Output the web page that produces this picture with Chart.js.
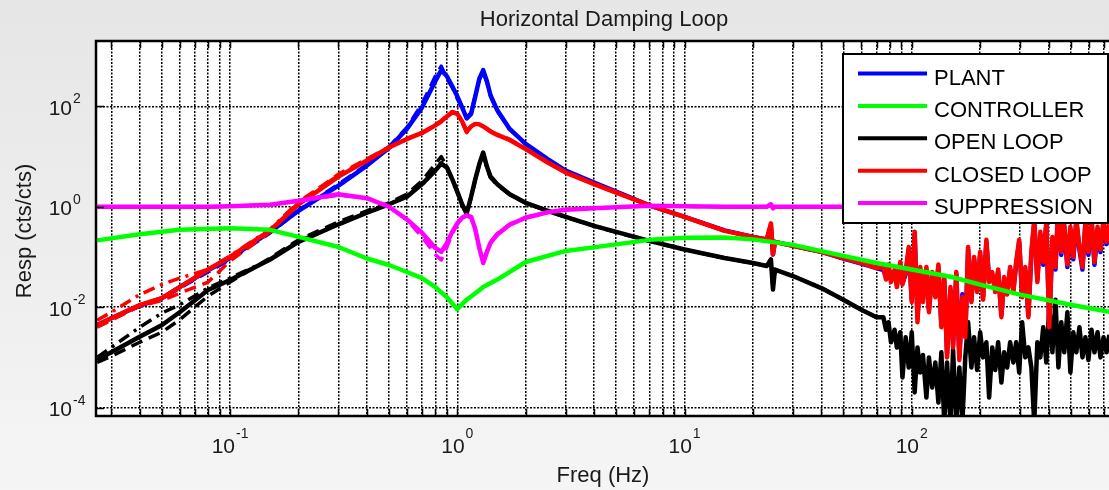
<!DOCTYPE html>
<html>
<head>
<meta charset="utf-8">
<title>Horizontal Damping Loop</title>
<script src="https://cdn.jsdelivr.net/npm/chart.js@4.4.0/dist/chart.umd.min.js"></script>
<style>
    body { margin: 0; background: #ececec; }
    canvas { display: block; }
</style>
</head>
<body>
<canvas id="damping_chart" width="1109" height="490"></canvas>
<script>
// frequency grid for the smooth part of the measured curves (Hz)
const freqs = [0.026, 0.03, 0.04, 0.05, 0.06, 0.08, 0.1, 0.15, 0.2, 0.3, 0.4, 0.5, 0.6, 0.7, 0.8, 0.85, 0.9, 0.95, 1.0, 1.05, 1.1, 1.15, 1.2, 1.25, 1.3, 1.35, 1.4, 1.5, 1.7, 2, 2.5, 3, 4, 5, 7, 10, 15, 20, 23, 24, 24.5, 25, 30, 40, 50, 60, 70];

const plant = [0.0044, 0.006, 0.0108, 0.015, 0.025, 0.054, 0.095, 0.316, 0.832, 2.63, 6.61, 14.8, 35.5, 95.5, 316, 525, 398, 251, 158, 95.5, 57.5, 70.8, 158, 355, 525, 316, 166, 83.2, 35.5, 17.8, 8.91, 5.25, 3.02, 2.0, 1.07, 0.631, 0.339, 0.251, 0.224, 0.417, 0.112, 0.2, 0.166, 0.126, 0.0933, 0.0741, 0.0603];
const plant_dash = [0.0042, 0.0058, 0.0104, 0.0148, 0.024, 0.05, 0.089, 0.3, 0.85, 2.82, 6.9, 15.5, 38, 112, 398, 631, 355, 240, 141, 90, 60, 75, 165, 340, 479, 300, 160, 80, 35, 17.5, 8.8, 5.2, 3.0, 2.0, 1.07, 0.63, 0.34, 0.25, 0.224, 0.4, 0.12, 0.2, 0.166, 0.126, 0.093, 0.074, 0.06];

const open_loop = [0.00089, 0.00126, 0.00257, 0.00437, 0.00794, 0.022, 0.0347, 0.0891, 0.2, 0.447, 0.759, 1.12, 1.58, 2.82, 5.25, 7.24, 6.03, 3.55, 2.0, 1.12, 0.741, 1.58, 3.55, 7.08, 12.0, 6.31, 3.98, 2.82, 1.78, 1.2, 0.832, 0.631, 0.417, 0.316, 0.209, 0.141, 0.0955, 0.0759, 0.0661, 0.0891, 0.0224, 0.0562, 0.0417, 0.024, 0.0141, 0.00891, 0.00631];
const open_loop_dash = [0.00079, 0.00105, 0.002, 0.00316, 0.00562, 0.0166, 0.0316, 0.0955, 0.219, 0.5, 0.832, 1.2, 1.78, 3.31, 7.08, 10, 6.31, 3.4, 1.9, 1.05, 0.7, 1.5, 3.4, 6.8, 11, 6, 3.8, 2.7, 1.75, 1.18, 0.82, 0.62, 0.41, 0.31, 0.205, 0.14, 0.095, 0.075, 0.066, 0.085, 0.025, 0.056, 0.0417, 0.024, 0.014, 0.0089, 0.0063];
const open_loop_dashdot = [0.001, 0.00158, 0.00398, 0.00759, 0.0112, 0.024, 0.038, 0.0891, 0.2, 0.447, 0.76, 1.12, 1.6, 2.9, 5.5, 7.5, 6.2, 3.6, 2.0, 1.12, 0.74, 1.58, 3.55, 7.08, 12.0, 6.31, 3.98, 2.82, 1.78, 1.2, 0.832, 0.631, 0.417, 0.316, 0.209, 0.141, 0.0955, 0.0759, 0.0661, 0.0891, 0.0224, 0.0562, 0.0417, 0.024, 0.0141, 0.00891, 0.00631];

const closed_loop = [0.00437, 0.00603, 0.011, 0.0151, 0.0251, 0.0562, 0.1, 0.339, 1.12, 3.98, 8.32, 15.1, 22.4, 29.5, 41.7, 50.1, 63.1, 75.9, 70.8, 50.1, 31.6, 39.8, 44.7, 43.7, 39.8, 35.5, 31.6, 26.9, 21.4, 14.1, 7.59, 4.79, 2.82, 1.91, 1.07, 0.631, 0.331, 0.251, 0.224, 0.468, 0.112, 0.2, 0.166, 0.126, 0.0955, 0.0759, 0.0603];
const closed_loop_dash = [0.004, 0.0055, 0.0105, 0.0135, 0.019, 0.0316, 0.083, 0.316, 1.2, 4.47, 8.9, 15.5, 22, 30, 43, 52, 66, 79, 72, 48, 30, 40, 45, 44, 40, 36, 32, 27.5, 22, 14.5, 7.8, 4.9, 2.9, 1.95, 1.07, 0.63, 0.33, 0.25, 0.224, 0.45, 0.115, 0.2, 0.166, 0.126, 0.095, 0.076, 0.06];
const closed_loop_dashdot = [0.0055, 0.0079, 0.0178, 0.0282, 0.038, 0.0562, 0.105, 0.355, 1.26, 4.2, 8.5, 15, 22.4, 29.5, 41.7, 50, 63, 75, 70, 50, 31.6, 39.8, 44.7, 43.7, 39.8, 35.5, 31.6, 26.9, 21.4, 14.1, 7.59, 4.79, 2.82, 1.91, 1.07, 0.631, 0.331, 0.251, 0.224, 0.46, 0.115, 0.2, 0.166, 0.126, 0.0955, 0.0759, 0.0603];

const suppression = [1.0, 1.0, 1.0, 1.0, 1.0, 1.0, 1.02, 1.1, 1.32, 1.78, 1.48, 1.0, 0.56, 0.302, 0.151, 0.126, 0.19, 0.316, 0.468, 0.603, 0.676, 0.631, 0.355, 0.151, 0.0759, 0.126, 0.19, 0.282, 0.437, 0.603, 0.776, 0.871, 0.933, 0.977, 1.05, 1.02, 1.0, 1.0, 1.0, 1.12, 0.93, 1.0, 1.0, 1.0, 1.0, 1.0, 1.0];
const suppression_dash = [1.0, 1.0, 1.0, 1.0, 1.0, 1.0, 1.02, 1.1, 1.3, 1.7, 1.5, 1.02, 0.55, 0.25, 0.112, 0.087, 0.158, 0.29, 0.45, 0.59, 0.66, 0.6, 0.34, 0.15, 0.08, 0.13, 0.2, 0.29, 0.45, 0.62, 0.78, 0.88, 0.94, 0.98, 1.05, 1.02, 1.0, 1.0, 1.0, 1.1, 0.94, 1.0, 1.0, 1.0, 1.0, 1.0, 1.0];

// noisy high frequency part of the measurements (Hz)
const noise_freqs = [75, 77, 79, 81, 84, 86, 89, 91, 94, 97, 100, 103, 106, 109, 112, 116, 119, 123, 127, 131, 135, 139, 143, 148, 152, 157, 162, 167, 172, 177, 183, 188, 194, 200, 206, 213, 219, 226, 233, 240, 248, 255, 263, 271, 280, 288, 297, 306, 316, 326, 336, 346, 357, 368, 379, 391, 403, 416, 429, 442, 455, 469, 484, 499, 514, 530, 547, 564, 581, 599, 618, 637, 657, 677, 698, 720, 740];
const plant_noise = [0.055, 0.04, 0.065, 0.035, 0.05, 0.028, 0.07, 0.03, 0.045, 0.14, 0.014, 0.28, 0.006, 0.056, 0.014, 0.056, 0.009, 0.045, 0.018, 0.063, 0.0045, 0.035, 0.0012, 0.022, 0.0018, 0.045, 0.001, 0.018, 0.0028, 0.14, 0.014, 0.09, 0.022, 0.11, 0.016, 0.2, 0.035, 0.045, 0.022, 0.05, 0.007, 0.035, 0.02, 0.056, 0.022, 0.07, 0.2, 0.018, 0.056, 0.007, 0.11, 0.48, 0.035, 0.28, 0.07, 0.45, 0.0045, 0.22, 0.056, 1.1, 0.11, 0.4, 0.063, 0.35, 0.09, 0.5, 0.14, 0.056, 0.45, 0.11, 0.56, 0.07, 0.35, 0.125, 0.5, 0.18, 0.4];
const open_loop_noise = [0.00631, 0.00355, 0.00501, 0.002, 0.00355, 0.00158, 0.00316, 0.000398, 0.00251, 0.00063, 0.00316, 0.0002, 0.00158, 0.0005, 0.00112, 0.000158, 0.001, 0.00025, 0.00079, 0.000126, 0.00126, 0.00005, 0.00079, 0.00005, 0.00141, 0.00005, 0.00063, 0.00005, 0.001, 0.00501, 0.00063, 0.00251, 0.000562, 0.00316, 0.001, 0.002, 0.000158, 0.00158, 0.000562, 0.002, 0.000316, 0.00126, 0.00063, 0.002, 0.00079, 0.002, 0.0005, 0.00501, 0.001, 0.00158, 0.00063, 0.00005, 0.002, 0.001, 0.00398, 0.00079, 0.01, 0.00126, 0.0141, 0.00063, 0.00501, 0.00126, 0.00794, 0.0005, 0.00316, 0.00126, 0.00398, 0.001, 0.00251, 0.00089, 0.00355, 0.00126, 0.00316, 0.001, 0.00251, 0.00126, 0.00282];
const closed_loop_noise = [0.0631, 0.0355, 0.0708, 0.0316, 0.0562, 0.0251, 0.0794, 0.0282, 0.0501, 0.158, 0.0126, 0.316, 0.00501, 0.0631, 0.0126, 0.0631, 0.00794, 0.0501, 0.0158, 0.0708, 0.00398, 0.0398, 0.001, 0.0251, 0.00158, 0.0501, 0.00089, 0.0158, 0.00251, 0.158, 0.0126, 0.1, 0.02, 0.126, 0.0141, 0.219, 0.0316, 0.0501, 0.02, 0.0562, 0.00631, 0.0398, 0.0178, 0.0631, 0.02, 0.0794, 0.219, 0.0158, 0.0631, 0.00631, 0.126, 0.537, 0.0316, 0.316, 0.0794, 0.501, 0.00398, 0.251, 0.0631, 1.26, 0.126, 0.447, 0.0708, 0.398, 0.1, 0.562, 0.158, 0.0631, 0.501, 0.126, 0.631, 0.0794, 0.398, 0.141, 0.562, 0.2, 0.447];
const suppression_noise = [1.0, 1.05, 0.95, 1.1, 0.92, 1.08, 0.95, 1.12, 0.9, 1.1, 0.88, 1.15, 0.9, 1.1, 0.85, 1.2, 0.92, 1.1, 0.85, 1.2, 0.9, 1.25, 0.8, 1.15, 0.85, 1.2, 0.8, 1.1, 0.9, 1.25, 0.85, 1.1, 0.9, 1.2, 0.85, 1.3, 0.9, 1.1, 0.95, 1.15, 0.85, 1.1, 0.9, 1.2, 0.85, 1.1, 1.3, 0.9, 1.1, 0.85, 1.15, 1.35, 0.9, 1.25, 0.95, 1.3, 0.8, 1.2, 0.95, 1.4, 1.0, 1.25, 0.95, 1.2, 1.0, 1.3, 1.05, 0.95, 1.25, 1.0, 1.3, 0.95, 1.2, 1.05, 1.3, 1.1, 1.2];

// controller model
const controller_freqs = [0.026, 0.04, 0.06, 0.1, 0.15, 0.2, 0.3, 0.4, 0.5, 0.6, 0.7, 0.8, 0.9, 1.0, 1.1, 1.2, 1.3, 1.5, 2, 3, 5, 7, 10, 15, 20, 30, 50, 70, 100, 150, 200, 300, 500, 740];
const controller = [0.214, 0.282, 0.347, 0.372, 0.347, 0.251, 0.158, 0.0933, 0.0692, 0.0501, 0.038, 0.0251, 0.0158, 0.00912, 0.0141, 0.019, 0.0251, 0.0355, 0.0794, 0.132, 0.178, 0.219, 0.24, 0.245, 0.224, 0.174, 0.105, 0.0759, 0.0562, 0.0398, 0.0282, 0.0178, 0.0112, 0.0081];

const legend_labels = ["PLANT", "CONTROLLER", "OPEN LOOP", "CLOSED LOOP", "SUPPRESSION"];
const legend_colors = ["#0000ff", "#00ff00", "#000000", "#ff0000", "#ff00ff"];

const x_min = 0.0257;
const x_max = 738;
const y_min = 6.8e-5;
const y_max = 2000;
const x_decades = [0.01, 0.1, 1, 10, 100];
const x_label_exponents = [-1, 0, 1, 2];
const y_label_exponents = [-4, -2, 0, 2];

const font_family = "'Liberation Sans', Arial, sans-serif";

const x_ticks = [];
x_decades.forEach(d =>
{
    for (let m = 1; m <= 9; m++)
    {
        const v = d * m;
        if (v >= x_min && v <= x_max) x_ticks.push(v);
    }
});
const y_ticks = y_label_exponents.map(e => Math.pow(10, e));

function points(x_values, y_values)
{
    return x_values.map((x, i) => ({ x: x, y: y_values[i] }));
}

function series(label, color, order, data, dash)
{
    return {
        label: label,
        data: data,
        borderColor: color,
        backgroundColor: color,
        borderWidth: dash ? 3.5 : 4.5,
        borderDash: dash || [],
        borderJoinStyle: "round",
        pointRadius: 0,
        fill: false,
        tension: 0,
        clip: 0,
        order: order
    };
}

const dashed = [12, 7];
const dashdot = [12, 6, 3, 6];

const frame_plugin =
{
    id: "frame",
    beforeDraw(chart)
    {
        const ctx = chart.ctx;
        const area = chart.chartArea;
        const gradient = ctx.createLinearGradient(0, 0, 0, chart.height);
        gradient.addColorStop(0, "#e6e6e6");
        gradient.addColorStop(1, "#f5f5f5");
        ctx.save();
        ctx.fillStyle = gradient;
        ctx.fillRect(0, 0, chart.width, chart.height);
        ctx.fillStyle = "#ffffff";
        ctx.fillRect(area.left, area.top, area.right - area.left, area.bottom - area.top);
        ctx.restore();
    },
    afterDraw(chart)
    {
        const ctx = chart.ctx;
        const area = chart.chartArea;
        const x_scale = chart.scales.x;
        const y_scale = chart.scales.y;
        ctx.save();

        // axes box and inside tick marks
        ctx.strokeStyle = "#000000";
        ctx.lineWidth = 1.5;
        ctx.beginPath();
        x_ticks.forEach(v =>
        {
            const px = Math.round(x_scale.getPixelForValue(v)) + 0.5;
            ctx.moveTo(px, area.top);
            ctx.lineTo(px, area.top + 7);
            ctx.moveTo(px, area.bottom);
            ctx.lineTo(px, area.bottom - 7);
        });
        y_ticks.forEach(v =>
        {
            const py = Math.round(y_scale.getPixelForValue(v)) + 0.5;
            ctx.moveTo(area.left, py);
            ctx.lineTo(area.left + 8, py);
        });
        ctx.stroke();
        ctx.lineWidth = 2.5;
        ctx.strokeRect(area.left, area.top, area.right - area.left + 4, area.bottom - area.top);

        // tick labels as 10 with a raised exponent
        ctx.fillStyle = "#1a1a1a";
        ctx.textBaseline = "alphabetic";
        x_label_exponents.forEach(e =>
        {
            const px = x_scale.getPixelForValue(Math.pow(10, e));
            ctx.font = "21px " + font_family;
            const base_width = ctx.measureText("10").width;
            ctx.font = "14px " + font_family;
            const exp_width = ctx.measureText(String(e)).width;
            const left = px - (base_width + exp_width + 1) / 2;
            ctx.font = "21px " + font_family;
            ctx.textAlign = "left";
            ctx.fillText("10", left, 453);
            ctx.font = "14px " + font_family;
            ctx.fillText(String(e), left + base_width + 1, 438);
        });
        y_label_exponents.forEach(e =>
        {
            const py = y_scale.getPixelForValue(Math.pow(10, e));
            ctx.font = "21px " + font_family;
            ctx.textAlign = "right";
            ctx.fillText("10", 72, py + 8.5);
            ctx.font = "14px " + font_family;
            ctx.textAlign = "left";
            ctx.fillText(String(e), 73, py - 3);
        });

        // title and axis titles
        ctx.font = "22px " + font_family;
        ctx.textAlign = "center";
        ctx.fillText("Horizontal Damping Loop", 604, 26);
        ctx.fillText("Freq (Hz)", 603, 482);
        ctx.save();
        ctx.translate(31, 231);
        ctx.rotate(-Math.PI / 2);
        ctx.fillText("Resp (cts/cts)", 0, 0);
        ctx.restore();

        // legend box
        ctx.fillStyle = "#ffffff";
        ctx.fillRect(843, 54, 265, 169);
        ctx.strokeStyle = "#000000";
        ctx.lineWidth = 2;
        ctx.strokeRect(843, 54, 265, 169);
        ctx.font = "22px " + font_family;
        ctx.textAlign = "left";
        legend_labels.forEach((label, i) =>
        {
            const row_y = 73.5 + i * 32.4;
            ctx.strokeStyle = legend_colors[i];
            ctx.lineWidth = 4;
            ctx.beginPath();
            ctx.moveTo(858, row_y);
            ctx.lineTo(927, row_y);
            ctx.stroke();
            ctx.fillStyle = "#000000";
            ctx.fillText(label, 934, row_y + 11);
        });
        ctx.restore();
    }
};

const damping_chart = new Chart("damping_chart",
{
    type: "line",
    data:
    {
        datasets:
        [
            series(legend_labels[0], legend_colors[0], 6, points(freqs, plant).concat(points(noise_freqs, plant_noise))),
            series(legend_labels[1], legend_colors[1], 2, points(controller_freqs, controller)),
            series(legend_labels[2], legend_colors[2], 4, points(freqs, open_loop).concat(points(noise_freqs, open_loop_noise))),
            series(legend_labels[3], legend_colors[3], 3, points(freqs, closed_loop).concat(points(noise_freqs, closed_loop_noise))),
            series(legend_labels[4], legend_colors[4], 1, points(freqs, suppression).concat(points(noise_freqs, suppression_noise))),
            series("", legend_colors[0], 6, points(freqs, plant_dash), dashed),
            series("", legend_colors[2], 4, points(freqs, open_loop_dash), dashed),
            series("", legend_colors[2], 4, points(freqs, open_loop_dashdot), dashdot),
            series("", legend_colors[3], 3, points(freqs, closed_loop_dash), dashed),
            series("", legend_colors[3], 3, points(freqs, closed_loop_dashdot), dashdot),
            series("", legend_colors[4], 1, points(freqs, suppression_dash), dashed)
        ]
    },
    options:
    {
        responsive: false,
        animation: false,
        layout:
        {
            padding: { top: 41, right: 0, bottom: 0, left: 0 }
        },
        plugins:
        {
            legend: { display: false },
            title: { display: false },
            tooltip: { enabled: false }
        },
        scales:
        {
            x:
            {
                type: "logarithmic",
                min: x_min,
                max: x_max,
                afterBuildTicks: scale => { scale.ticks = x_ticks.map(v => ({ value: v })); },
                afterFit: scale => { scale.height = 74; },
                ticks: { display: false },
                grid: { color: "#000000", lineWidth: 1.5, drawTicks: false },
                border: { display: false, dash: [2, 1.5] }
            },
            y:
            {
                type: "logarithmic",
                min: y_min,
                max: y_max,
                afterBuildTicks: scale => { scale.ticks = y_ticks.map(v => ({ value: v })); },
                afterFit: scale => { scale.width = 96; },
                ticks: { display: false },
                grid: { color: "#000000", lineWidth: 1.5, drawTicks: false },
                border: { display: false, dash: [2, 1.5] }
            }
        }
    },
    plugins: [frame_plugin]
});
</script>
</body>
</html>
